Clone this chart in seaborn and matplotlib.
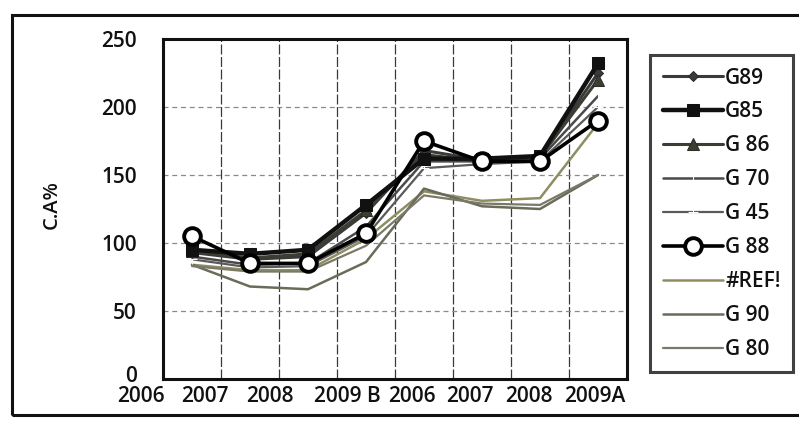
import numpy as np
import matplotlib
matplotlib.use("Agg")
import matplotlib.pyplot as plt
import matplotlib.transforms as mtransforms
from matplotlib.patches import Rectangle
import seaborn as sns

# Category labels along the x axis (two runs of years)
periods = ["2006", "2007", "2008", "2009 B", "2006", "2007", "2008", "2009A"]

# C.A% per series
g89 = [93, 88, 90, 122, 168, 161, 163, 225]
g85 = [95, 92, 95, 128, 162, 162, 164, 232]
g86 = [94, 89, 92, 124, 165, 160, 163, 220]
g70 = [90, 84, 85, 112, 160, 160, 162, 208]
g45 = [88, 82, 83, 105, 155, 158, 160, 200]
g88 = [105, 85, 85, 107, 175, 160, 160, 190]
ref = [84, 80, 80, 103, 138, 131, 133, 188]
g90 = [84, 68, 66, 86, 140, 127, 125, 150]
g80 = [83, 79, 79, 98, 135, 129, 128, 150]

series_names = ["G89", "G85", "G 86", "G 70", "G 45", "G 88", "#REF!", "G 90", "G 80"]
series_values = [g89, g85, g86, g70, g45, g88, ref, g90, g80]

y_ticks = [0, 50, 100, 150, 200, 250]
y_label = "C.A%"

sns.set_theme(style="white")
plt.rcParams["font.family"] = ["Open Sans", "DejaVu Sans"]

W, H = 799, 430
fig = plt.figure(figsize=(W / 100, H / 100), dpi=100)
fig.patch.set_facecolor("white")

# plot area in pixel terms
left, right, top, bottom = 163, 627, 39, 379
ax = fig.add_axes([left / W, 1 - bottom / H, (right - left) / W, (bottom - top) / H])
ax.set_facecolor("white")

styles = {
    "G89":   dict(color="#3a3a3a", lw=2.2, marker="D", markersize=5, markeredgecolor="#2a2a2a", zorder=4),
    "G85":   dict(color="#111111", lw=3.2, marker="s", markersize=9, markeredgecolor="#111111", zorder=5),
    "G 86":  dict(color="#3d3d33", lw=2.2, marker="^", markersize=8, markeredgecolor="#2d2d25", zorder=4),
    "G 70":  dict(color="#4a4a4a", lw=1.8, marker="|", markersize=6, zorder=3),
    "G 45":  dict(color="#5a5a5a", lw=1.6, marker="+", markersize=7, zorder=3),
    "G 88":  dict(color="#000000", lw=2.6, marker="o", markersize=12, markerfacecolor="white",
                  markeredgecolor="black", markeredgewidth=2.8, zorder=6),
    "#REF!": dict(color="#8e8e62", lw=1.8, zorder=2),
    "G 90":  dict(color="#6b6b5a", lw=1.8, zorder=2),
    "G 80":  dict(color="#7a7a6a", lw=1.6, zorder=2),
}

x = np.arange(len(periods))
for name, vals in zip(series_names, series_values):
    sns.lineplot(x=x, y=vals, ax=ax, label=name, **styles[name])

handles, labels = ax.get_legend_handles_labels()
ax.get_legend().remove()

# axes ranges and ticks
ax.set_xlim(-0.5, len(periods) - 0.5)
ax.set_ylim(y_ticks[0], y_ticks[-1])
ax.set_yticks(y_ticks)
ax.set_xticks(x)
ax.set_xticklabels(periods)
ax.set_xticks(x[:-1] + 0.5, minor=True)
ax.tick_params(axis="both", which="both", length=0)
ax.tick_params(axis="y", pad=19, labelsize=15, labelcolor="#111111")
ax.tick_params(axis="x", pad=5, labelsize=15, labelcolor="#111111")
for lbl in ax.get_xticklabels() + ax.get_yticklabels():
    lbl.set_fontweight("semibold")

# crowded labels sit left of their categories
dx_px = [-51, -45, -38, -19, -12, -12, -11, -3]
for lbl, dx in zip(ax.get_xticklabels(), dx_px):
    lbl.set_transform(lbl.get_transform() + mtransforms.ScaledTranslation(dx / 100, 0, fig.dpi_scale_trans))
# lift the zero label a little off the first category label
zero_lbl = ax.get_yticklabels()[0]
zero_lbl.set_transform(zero_lbl.get_transform() + mtransforms.ScaledTranslation(0, 5 / 100, fig.dpi_scale_trans))

# gridlines
ax.grid(False)
ax.yaxis.grid(True, which="major", color="#8a8a8a", lw=0.9, linestyle=(0, (4, 3)))
ax.xaxis.grid(True, which="minor", color="#3a3a3a", lw=0.9, linestyle=(0, (8, 2)))
ax.set_axisbelow(True)

for sp in ax.spines.values():
    sp.set_visible(True)
    sp.set_color("#111111")
    sp.set_linewidth(2.2)

ax.set_xlabel("")
ax.set_ylabel(y_label, fontsize=14.5, color="#111111", fontweight="semibold")
ax.yaxis.set_label_coords((62 - left) / (right - left), (bottom - 205) / (bottom - top))

# legend box to the right of the plot
leg = fig.legend(handles, labels, loc="upper left",
                 bbox_to_anchor=(650 / W, 1 - 55 / H), bbox_transform=fig.transFigure,
                 borderaxespad=0, frameon=True, fancybox=False,
                 prop={"size": 15, "weight": "semibold"},
                 handlelength=2.9, handletextpad=0.1, labelspacing=0.62,
                 borderpad=0.6)
leg.get_frame().set_edgecolor("#111111")
leg.get_frame().set_linewidth(2.2)
for t in leg.get_texts():
    t.set_color("#111111")

# outer chart border
fig.patches.append(Rectangle((12 / W, 1 - 415 / H), 1.02, (415 - 15) / H,
                             transform=fig.transFigure, fill=False,
                             edgecolor="#111111", linewidth=2.2))

fig.savefig("out.png", dpi=100, facecolor="white")
